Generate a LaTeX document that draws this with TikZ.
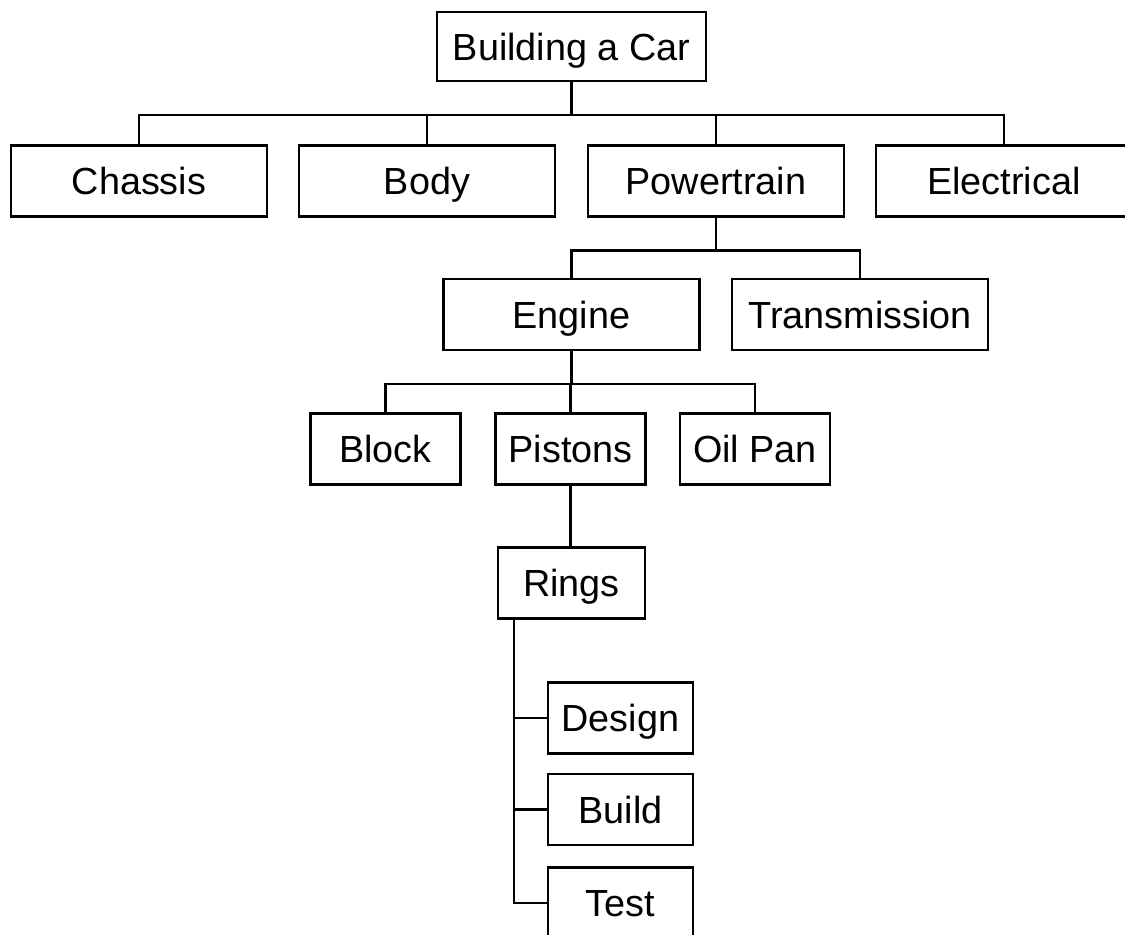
\documentclass[tikz,border=0pt]{standalone}
\usepackage{fontspec}
\setmainfont{Liberation Sans}
\usepackage{tikz}
\usetikzlibrary{calc}
\tikzset{box/.style={draw,line width=1.2pt,inner sep=0pt,minimum height=1.42cm,text height=19.4pt,text depth=4pt,font=\fontsize{21.5}{26}\selectfont},wbox/.style={box,minimum width=5.12cm},sbox/.style={box,minimum width=3.0cm},tbox/.style={box,minimum width=2.9cm},ln/.style={line width=1.2pt,line cap=rect}}

\begin{document}
\begin{tikzpicture}[x=0.02cm,y=-0.02cm]
\useasboundingbox (0,0) rectangle (1125,935);
\clip (0,0) rectangle (1125,935);
\node[box,minimum width=5.38cm,minimum height=1.38cm] (car) at (571.5,46.5) {Building a Car};
\node[wbox] (chassis) at (139,181) {Chassis};
\node[wbox] (body) at (427,181) {Body};
\node[wbox] (power) at (716,181) {Powertrain};
\node[wbox] (elec) at (1004,181) {Electrical};
\node[wbox] (engine) at (571.5,314.5) {Engine};
\node[wbox] (trans) at (860,314.5) {Transmission};
\node[sbox] (block) at (385.5,449) {Block};
\node[sbox] (pistons) at (570.5,449) {Pistons};
\node[sbox] (oilpan) at (755,449) {Oil Pan};
\node[tbox,minimum width=2.94cm] (rings) at (571.5,583) {Rings};
\node[tbox] (design) at (620.5,718) {Design};
\node[tbox] (build) at (620.5,809.5) {Build};
\node[tbox] (test) at (620.5,903) {Test};
% bus lines
\draw[ln] (car.south)--++(0,33) coordinate (b1);
\foreach \n in {chassis,body,power,elec} \draw[ln] (b1)-|(\n.north);
\draw[ln] (power.south)--++(0,33) coordinate (b2);
\foreach \n in {engine,trans} \draw[ln] (b2)-|(\n.north);
\draw[ln] (engine.south)--++(0,33) coordinate (b3);
\foreach \n in {block,pistons,oilpan} \draw[ln] (b3)-|(\n.north);
\draw[ln] (pistons.south)--(pistons.south|-rings.north);
% rings spine
\coordinate (sp) at ($(rings.south west)+(17,0)$);
\draw[ln] (sp)|-(test.west);
\draw[ln] (sp|-design.west)--(design.west);
\draw[ln] (sp|-build.west)--(build.west);
\end{tikzpicture}
\end{document}
